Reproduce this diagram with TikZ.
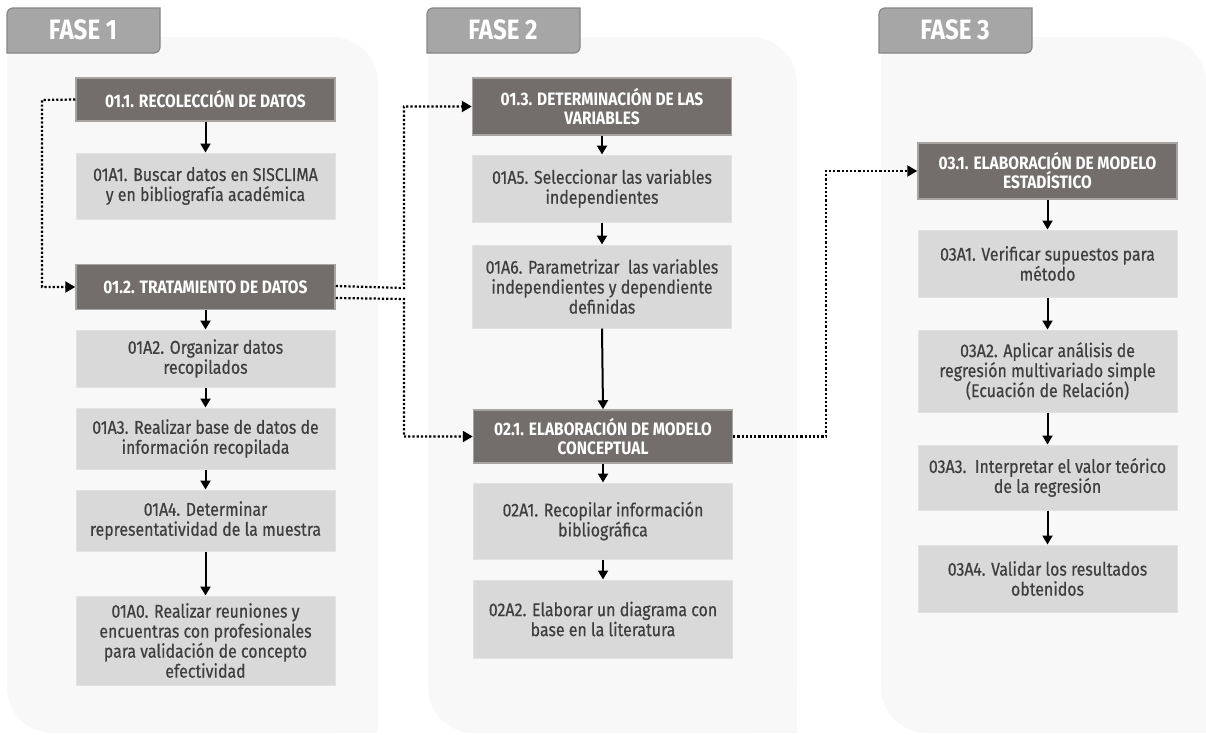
\documentclass[tikz,border=0pt]{standalone}
\usepackage{fontspec}
\setmainfont{Fira Sans}[FakeStretch=0.86]
\newfontfamily\bodyfont{Fira Sans}[FakeStretch=0.86, FakeBold=0.5]
\usetikzlibrary{arrows.meta}
\definecolor{panelc}{HTML}{F8F8F8}
\definecolor{tabfill}{HTML}{A6A6A6}
\definecolor{tabdraw}{HTML}{878787}
\definecolor{headfill}{HTML}{736E6C}
\definecolor{headdraw}{HTML}{A8A4A2}
\definecolor{actfill}{HTML}{D9D9D9}
\definecolor{actdraw}{HTML}{E2E2E2}
\definecolor{acttext}{HTML}{3E3E3E}
\tikzset{
  headbox/.style={fill=headfill, draw=headdraw, line width=1.5pt, text=white,
    font=\fontsize{18}{19}\selectfont\bfseries, align=center, minimum width=259pt, inner sep=2pt},
  actbox/.style={fill=actfill, draw=actdraw, line width=1pt, text=acttext,
    font=\bodyfont\fontsize{18.5}{20}\selectfont, align=center, minimum width=259pt, inner sep=2pt},
  flow/.style={line width=2pt, -{Triangle[length=9pt,width=10pt]}},
  dotflow/.style={line width=2.2pt, dotted, -{Triangle[length=10pt,width=11pt]}},
  tabtext/.style={text=white, font=\fontsize{28}{30}\selectfont\bfseries}
}
\begin{document}
\begin{tikzpicture}[x=1pt,y=-1pt]
\useasboundingbox (0,0) rectangle (1206,734);
\fill[white] (0,0) rectangle (1206,734);
% panels
\foreach \xa/\xb in {7/378, 428/797, 881/1206}{
  \fill[panelc, rounded corners=46pt] (\xa,37) rectangle (\xb,733);
  \fill[panelc] (\xa,37) rectangle (\xa+60,100);
  \fill[panelc] (\xb-60,670) rectangle (\xb,733);
}
% tabs
\foreach \xa/\n in {7/1, 427/2, 879/3}{
  \filldraw[fill=tabfill, draw=tabdraw, line width=1.2pt]
    (\xa,53) -- (\xa,14) arc[start angle=180, end angle=270, radius=6]
    -- (\xa+153,8) -- (\xa+153,47) arc[start angle=0, end angle=90, radius=6] -- cycle;
  \node[tabtext] (tab\n) at (\xa+76,30) {FASE \n};
}
% phase 1
\node[headbox, minimum height=43pt] (h11) at (205.5,99.5) {01.1. RECOLECCIÓN DE DATOS};
\node[actbox, minimum height=66pt] (a11) at (205.5,186) {01A1. Buscar datos en SISCLIMA\\y en bibliografía académica};
\node[headbox, minimum height=45pt] (h12) at (205.5,287) {01.2. TRATAMIENTO DE DATOS};
\node[actbox, minimum height=57pt] (a12) at (205.5,358.5) {01A2. Organizar datos\\recopilados};
\node[actbox, minimum height=61pt] (a13) at (205.5,438.5) {01A3. Realizar base de datos de\\información recopilada};
\node[actbox, minimum height=61pt] (a14) at (205.5,520.5) {01A4. Determinar\\representatividad de la muestra};
\node[actbox, minimum height=89pt] (a10) at (205.5,640.5) {01A0. Realizar reuniones y\\encuentras con profesionales\\para validación de concepto\\efectividad};
% phase 2
\node[headbox, minimum height=57pt] (h13) at (602,106.5) {01.3. DETERMINACIÓN DE LAS\\VARIABLES};
\node[actbox, minimum height=67pt] (a15) at (602,188.5) {01A5. Seleccionar las variables\\independientes};
\node[actbox, minimum height=83pt] (a16) at (602,286.5) {01A6. Parametrizar\ \ las variables\\independientes y dependiente\\definidas};
\node[headbox, minimum height=53pt] (h21) at (603,436.5) {02.1. ELABORACIÓN DE MODELO\\CONCEPTUAL};
\node[actbox, minimum height=76pt] (a21) at (603,521) {02A1. Recopilar información\\bibliográfica};
\node[actbox, minimum height=78pt] (a22) at (603,619) {02A2. Elaborar un diagrama con\\base en la literatura};
% phase 3
\node[headbox, minimum height=56pt] (h31) at (1047.5,171) {03.1. ELABORACIÓN DE MODELO\\ESTADÍSTICO};
\node[actbox, minimum height=67pt] (a31) at (1047.5,263.5) {03A1. Verificar supuestos para\\método};
\node[actbox, minimum height=82pt] (a32) at (1047.5,371) {03A2. Aplicar análisis de\\regresión multivariado simple\\(Ecuación de Relación)};
\node[actbox, minimum height=65pt] (a33) at (1047.5,477.5) {03A3.\ \ Interpretar el valor teórico\\de la regresión};
\node[actbox, minimum height=67pt] (a34) at (1047.5,578.5) {03A4. Validar los resultados\\obtenidos};
% solid arrows
\foreach \a/\b in {h11/a11, h12/a12, a12/a13, a13/a14, a14/a10, h13/a15, a15/a16, a16/h21, h21/a21, a21/a22, h31/a31, a31/a32, a32/a33, a33/a34}{
  \draw[flow] (\a.south) -- (\b.north);
}
% dotted connectors
\coordinate (c1) at (42,100);
\coordinate (c2) at (42,287);
\draw[dotflow] (h11.west) -- (c1) -- (c2) -- (h12.west);
\coordinate (c3) at (404,288);
\coordinate (c4) at (404,106.5);
\draw[dotflow] ([yshift=1pt]h12.east) -- (c3) -- (c4) -- (h13.west);
\coordinate (c5) at (404,299);
\coordinate (c6) at (404,436.5);
\draw[dotflow] ([yshift=-11pt]h12.east) -- (c5) -- (c6) -- (h21.west);
\coordinate (c7) at (826,436.5);
\coordinate (c8) at (826,171);
\draw[dotflow] (h21.east) -- (c7) -- (c8) -- (h31.west);
\end{tikzpicture}
\end{document}
